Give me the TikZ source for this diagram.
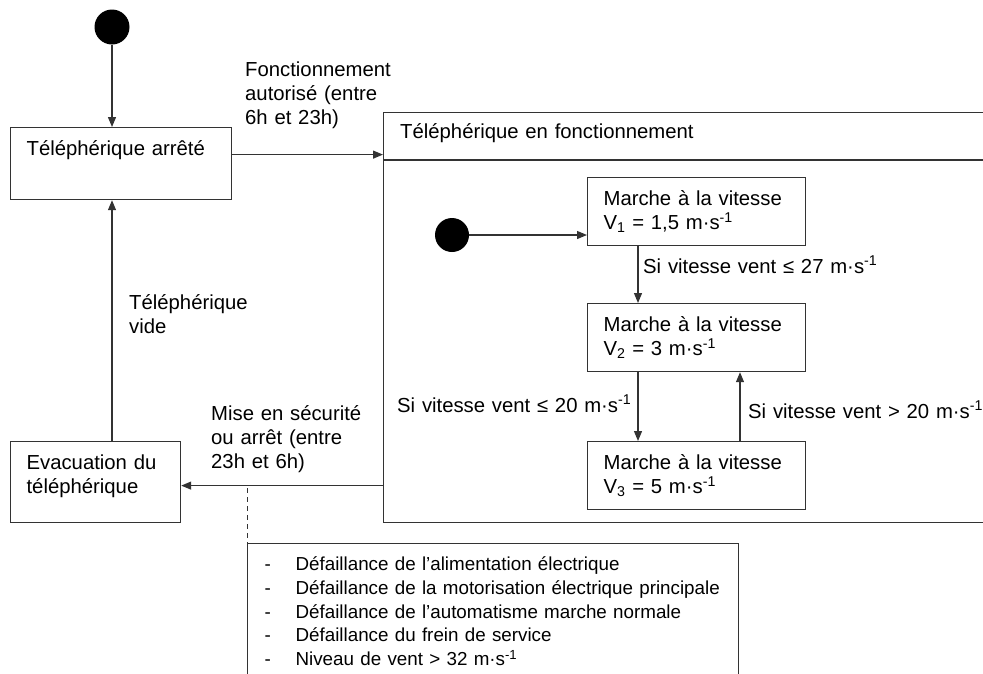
\documentclass[tikz,border=0pt]{standalone}
\usepackage{fontspec}
\setmainfont{Liberation Sans}
\usetikzlibrary{arrows.meta}
\hyphenpenalty=10000
\exhyphenpenalty=10000
\newcommand{\faultitem}[1]{\makebox[31pt][l]{-}\mbox{#1}}
\newcommand{\unitms}{m·s\textsuperscript{-1}}

\begin{document}
\begin{tikzpicture}[x=1pt, y=-1pt,
	>={Triangle[length=10pt, width=8pt]},
	every node/.style={font=\fontsize{20.3}{24}\selectfont, inner sep=0pt},
	line/.style={draw=black!80, line width=1.2pt},
	statebox/.style={line, shape=rectangle, anchor=north west, align=left, inner xsep=16pt, text height=28pt},
	initial/.style={fill=black, shape=circle, minimum size=35pt},
	label text/.style={anchor=base west, align=left, text width=#1}]

	\path [use as bounding box, clip] (0,0) rectangle (983,673);

	% etats hors fonctionnement
	\node [initial] (dot0) at (112,27) {};
	\node [statebox, text width=189pt, text depth=44pt] (arrete) at (10,127) {Téléphérique arrêté};
	\node [statebox, text width=138pt, text depth=53pt] (evac) at (10,441) {Evacuation du\\téléphérique};

	% etat composite
	\node [line, anchor=north west, minimum width=700pt, minimum height=410pt] (superstate) at (383,112) {};
	\draw [line] ([yshift=-48pt]superstate.north west) -- ++(700,0);
	\node [label text=420pt] (title) at (400,138.5) {Téléphérique en fonctionnement};

	\node [initial, minimum size=34pt] (dot1) at (452,235) {};
	\node [statebox, text width=186pt, text depth=40pt] (v1) at (587,177) {Marche à la vitesse\\V\textsubscript{1} = 1,5 \unitms};
	\node [statebox, text width=186pt, text depth=40pt] (v2) at (587,303) {Marche à la vitesse\\V\textsubscript{2} = 3 \unitms};
	\node [statebox, text width=186pt, text depth=40pt] (v3) at (587,441) {Marche à la vitesse\\V\textsubscript{3} = 5 \unitms};

	% note des defaillances
	\node [statebox, font=\fontsize{18.8}{23.7}\selectfont, inner xsep=17pt, text width=457pt, text height=27pt, text depth=200pt] (faults) at (247,543) {%
		\faultitem{Défaillance de l’alimentation électrique}\\
		\faultitem{Défaillance de la motorisation électrique principale}\\
		\faultitem{Défaillance de l’automatisme marche normale}\\
		\faultitem{Défaillance du frein de service}\\
		\faultitem{Niveau de vent > 32 \unitms}};

	% etiquettes
	\node [label text=200pt] (lblon) at (245,76) {Fonctionnement\\autorisé (entre\\6h et 23h)};
	\node [label text=200pt] (lblvide) at (129,309) {Téléphérique\\vide};
	\node [label text=200pt] (lblsecu) at (211,420) {Mise en sécurité\\ou arrêt (entre\\23h et 6h)};
	\node [label text=300pt] (lbl27) at (643,273.5) {Si vitesse vent ≤ 27 \unitms};
	\node [label text=300pt] (lbl20a) at (397,412.5) {Si vitesse vent ≤ 20 \unitms};
	\node [label text=300pt] (lbl20b) at (748,418.5) {Si vitesse vent > 20 \unitms};

	% transitions
	\draw [line, ->] (dot0) to (dot0 |- arrete.north);
	\draw [line, ->] ([yshift=9pt]arrete.east) to ([yshift=9pt]arrete.east -| superstate.west);
	\draw [line, ->] ([yshift=-3.5pt]evac.east -| superstate.west) to ([yshift=-3.5pt]evac.east);
	\draw [line, ->] (evac.north -| dot0) to (arrete.south -| dot0);

	\draw [line, ->] (dot1) to (dot1 -| v1.west);
	\draw [line, ->] ([xshift=51pt]v1.south west) to ([xshift=51pt]v2.north west);
	\draw [line, ->] ([xshift=51pt]v2.south west) to ([xshift=51pt]v3.north west);
	\draw [line, ->] ([xshift=153pt]v3.north west) to ([xshift=153pt]v2.south west);

	\coordinate (notept) at (247,488);
	\draw [line, line width=0.8pt, dash pattern=on 5pt off 4pt] (notept) to (faults.north west);

\end{tikzpicture}
\end{document}
